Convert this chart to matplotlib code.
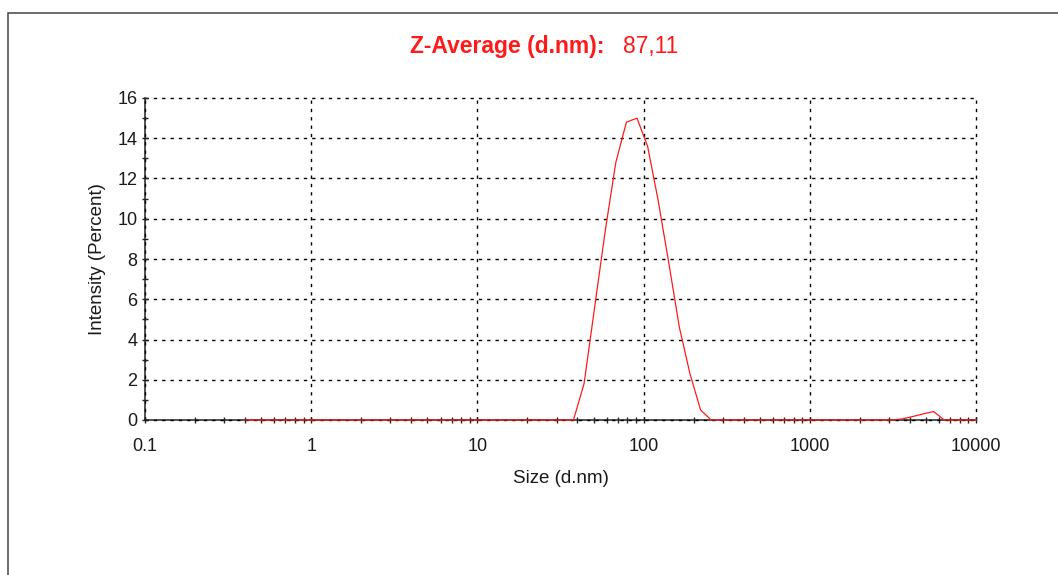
import matplotlib
matplotlib.use("Agg")
import matplotlib.pyplot as plt
from matplotlib.patches import Rectangle
from matplotlib.ticker import LogLocator, FuncFormatter, MultipleLocator

plt.rcParams['font.family'] = ['Liberation Sans', 'DejaVu Sans']

# size classes (d.nm) of the distribution
sizes = [0.4, 0.4632, 0.5365, 0.6213, 0.7195, 0.8332, 0.9649, 1.117, 1.294, 1.499,
         1.736, 2.010, 2.328, 2.696, 3.122, 3.615, 4.187, 4.849, 5.615, 6.503,
         7.531, 8.721, 10.10, 11.70, 13.54, 15.69, 18.17, 21.04, 24.36, 28.21,
         32.67, 37.84, 43.82, 50.75, 58.77, 68.06, 78.82, 91.28, 105.7, 122.4,
         141.8, 164.2, 190.1, 220.2, 255.0, 295.3, 342.0, 396.1, 458.7, 531.2,
         615.1, 712.4, 825.0, 955.4, 1106, 1281, 1484, 1718, 1990, 2305,
         2669, 3091, 3580, 4145, 4801, 5560, 6439, 7456, 8635, 10000]

# intensity (percent) per size class
intensity = [0, 0, 0, 0, 0, 0, 0, 0, 0, 0,
             0, 0, 0, 0, 0, 0, 0, 0, 0, 0,
             0, 0, 0, 0, 0, 0, 0, 0, 0, 0,
             0, 0, 1.8, 5.6, 9.4, 12.8, 14.8, 15.0, 13.6, 10.9,
             7.8, 4.6, 2.3, 0.5, 0, 0, 0, 0, 0, 0,
             0, 0, 0, 0, 0, 0, 0, 0, 0, 0,
             0, 0, 0.05, 0.17, 0.3, 0.42, 0, 0, 0, 0]

x_ticks = [0.1, 1, 10, 100, 1000, 10000]
y_ticks = [0, 2, 4, 6, 8, 10, 12, 14, 16]
z_average = "87,11"

fig = plt.figure(figsize=(10.58, 5.75), dpi=100)

# outer frame of the report box
fig.patches.append(Rectangle((8 / 1058, -0.1), 1.2, 1 - 13 / 575 + 0.1,
                             transform=fig.transFigure, fill=False,
                             edgecolor='#444444', linewidth=1.1))

ax = fig.add_axes([145 / 1058, 1 - 420 / 575, (976 - 145) / 1058, (420 - 98) / 575])
ax.plot(sizes, intensity, color='#ff1a1a', linewidth=0.9, clip_on=False, zorder=3)

ax.set_xscale('log')
ax.set_xlim(0.1, 10000)
ax.set_ylim(0, 16)
ax.set_xticks(x_ticks)
ax.xaxis.set_major_formatter(FuncFormatter(lambda v, p: '{:g}'.format(v)))
ax.xaxis.set_minor_locator(LogLocator(base=10, subs=range(2, 10)))
ax.xaxis.set_minor_formatter(FuncFormatter(lambda v, p: ''))
ax.set_yticks(y_ticks)
ax.yaxis.set_minor_locator(MultipleLocator(1))

for side in ['top', 'right']:
    ax.spines[side].set_visible(False)
for side in ['left', 'bottom']:
    ax.spines[side].set_linewidth(1.1)
    ax.spines[side].set_color('#222222')

ax.tick_params(which='both', direction='inout', length=5, width=1.0, color='#222222',
               labelsize=13, labelcolor='#1a1a1a')
ax.tick_params(axis='x', which='both', pad=10.5)
ax.tick_params(axis='y', which='both', pad=3)

ax.grid(True, which='major', color='black', linewidth=1.0, linestyle=(0, (2.4, 3.6)))
ax.set_axisbelow(False)
# keep the grid lines on the top and right edge fully visible
for gl in ax.get_xgridlines() + ax.get_ygridlines():
    gl.set_clip_on(False)

ax.set_xlabel('Size (d.nm)', fontsize=13.5, color='#1a1a1a', labelpad=11)
ax.set_ylabel('Intensity (Percent)', fontsize=13.5, color='#1a1a1a', labelpad=8)

fig.text(605 / 1058, 1 - 46 / 575, 'Z-Average (d.nm):', color='#ff1a1a', fontsize=16.5,
         fontweight='bold', ha='right', va='center')
fig.text(623 / 1058, 1 - 46 / 575, z_average, color='#ff1a1a', fontsize=16.5,
         ha='left', va='center')

fig.savefig('out.png', dpi=100)
